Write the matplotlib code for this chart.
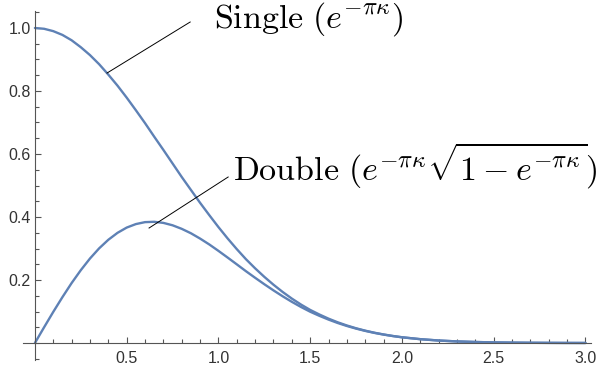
import matplotlib
matplotlib.use("Agg")
import matplotlib.pyplot as plt
from matplotlib.ticker import MultipleLocator, FixedLocator

plt.rcParams['font.family'] = ['Liberation Sans', 'DejaVu Sans']
plt.rcParams['mathtext.fontset'] = 'cm'

# values
kappa = [0.0, 0.05, 0.1, 0.15, 0.2, 0.25, 0.3, 0.35, 0.4, 0.45, 0.5, 0.55, 0.6, 0.65,
         0.7, 0.75, 0.8, 0.85, 0.9, 0.95, 1.0, 1.05, 1.1, 1.15, 1.2, 1.25, 1.3, 1.35,
         1.4, 1.45, 1.5, 1.55, 1.6, 1.65, 1.7, 1.75, 1.8, 1.85, 1.9, 1.95, 2.0, 2.1,
         2.2, 2.3, 2.4, 2.5, 2.6, 2.7, 2.8, 2.9, 3.0]
single = [1.000, 0.9975, 0.990, 0.978, 0.961, 0.939, 0.914, 0.885, 0.852, 0.817, 0.779,
          0.739, 0.698, 0.655, 0.613, 0.570, 0.527, 0.486, 0.445, 0.406, 0.368, 0.332,
          0.298, 0.266, 0.237, 0.210, 0.185, 0.162, 0.141, 0.122, 0.105, 0.0905, 0.0773,
          0.0657, 0.0556, 0.0468, 0.0392, 0.0326, 0.0271, 0.0223, 0.0183, 0.0122, 0.0079,
          0.0050, 0.0032, 0.0019, 0.0012, 0.0007, 0.0004, 0.0002, 0.0001]
double = [0.0, 0.0499, 0.0988, 0.1457, 0.1903, 0.2312, 0.2682, 0.3005, 0.3277, 0.3497,
          0.3664, 0.3775, 0.3837, 0.3848, 0.3813, 0.3737, 0.3624, 0.3484, 0.3315, 0.3129,
          0.2925, 0.2713, 0.2497, 0.2279, 0.2070, 0.1866, 0.1670, 0.1483, 0.1307, 0.1143,
          0.0993, 0.0863, 0.0743, 0.0635, 0.0540, 0.0457, 0.0384, 0.0321, 0.0267, 0.0221,
          0.0181, 0.0121, 0.0079, 0.0050, 0.0032, 0.0019, 0.0012, 0.0007, 0.0004, 0.0002,
          0.0001]

x_ticks = [0.5, 1.0, 1.5, 2.0, 2.5, 3.0]
y_ticks = [0.2, 0.4, 0.6, 0.8, 1.0]

single_label = r'$\mathrm{Single}\ (e^{-\pi\kappa})$'
double_label = r'$\mathrm{Double}\ (e^{-\pi\kappa}\sqrt{1-e^{-\pi\kappa}})$'

line_color = '#5E81B5'
axis_color = '#555555'

fig = plt.figure(figsize=(6, 3.71), dpi=100)
ax = fig.add_axes([0.0383, 0.0296, 0.9467, 0.9408])

ax.plot(kappa, single, color=line_color, lw=1.7, solid_capstyle='round')
ax.plot(kappa, double, color=line_color, lw=1.7, solid_capstyle='round')

ax.set_xlim(-0.065, 3.03)
ax.set_ylim(-0.054, 1.054)

for side in ['top', 'right']:
    ax.spines[side].set_visible(False)
for side in ['left', 'bottom']:
    ax.spines[side].set_position(('data', 0))
    ax.spines[side].set_color(axis_color)
    ax.spines[side].set_linewidth(0.8)

ax.xaxis.set_major_locator(FixedLocator(x_ticks))
ax.yaxis.set_major_locator(FixedLocator(y_ticks))
ax.xaxis.set_minor_locator(MultipleLocator(0.1))
ax.yaxis.set_minor_locator(MultipleLocator(0.05))
ax.set_xticklabels([f"{v:.1f}" for v in x_ticks])
ax.set_yticklabels([f"{v:.1f}" for v in y_ticks])
ax.tick_params(which='both', direction='in', color=axis_color, labelcolor='#333333',
               labelsize=11.5, width=0.8)
ax.tick_params(which='major', length=4.5)
ax.tick_params(which='minor', length=2.8)
ax.tick_params(axis='x', pad=6)
ax.tick_params(axis='y', pad=3)

# callout lines and labels
ax.plot([0.393, 0.846], [0.857, 1.019], color='black', lw=0.7)
ax.plot([0.622, 1.053], [0.365, 0.527], color='black', lw=0.7)
ax.text(0.977, 1.0, single_label, fontsize=24.5, va='baseline', ha='left')
ax.text(1.080, 0.517, double_label, fontsize=24.5, va='baseline', ha='left')

fig.savefig('out.png', dpi=100)
